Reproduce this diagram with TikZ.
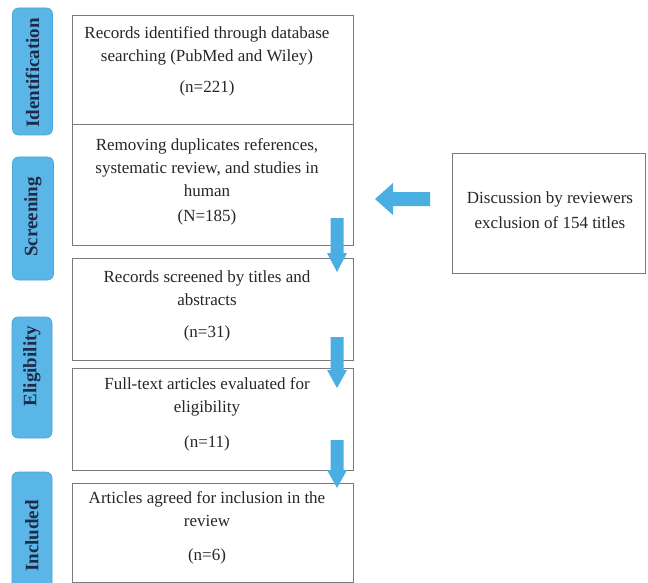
\documentclass[tikz,border=0pt]{standalone}
\usepackage{fontspec}
\setmainfont{Liberation Serif}
\definecolor{tabblue}{HTML}{5BB6E8}
\definecolor{tabedge}{HTML}{4BA3D6}
\definecolor{arrowblue}{HTML}{4AAEE3}
\definecolor{tabtext}{HTML}{1E2B48}
\definecolor{boxline}{HTML}{7A7A7A}
\begin{document}
\begin{tikzpicture}[x=1pt,y=-1pt,
  stagetab/.style={draw=tabedge, fill=tabblue, rounded corners=6pt, line width=0.6pt, inner sep=0pt},
  stagetext/.style={rotate=90, font=\fontsize{19}{22}\selectfont\bfseries, text=tabtext, inner sep=0pt},
  flowbox/.style={draw=boxline, line width=0.8pt, minimum width=281pt, inner sep=0pt},
  bodytext/.style={font=\fontsize{17}{23}\selectfont, align=center, inner sep=0pt, text=black!85},
  blockarrow/.style={fill=arrowblue}
]
\useasboundingbox (0,0) rectangle (648,583);

% stage tabs
\node[stagetab, minimum width=40pt, minimum height=127pt] (tabI) at (32.5,71.5) {};
\node[stagetab, minimum width=41pt, minimum height=123pt] (tabS) at (33,218.5) {};
\node[stagetab, minimum width=40pt, minimum height=121pt] (tabE) at (32,377.5) {};
\node[stagetab, minimum width=40pt, minimum height=128pt] (tabN) at (32,536) {};
\node[stagetext] (labI) at (32.5,73) {Identification};
\node[stagetext] (labS) at (33,217) {Screening};
\node[stagetext] (labE) at (32,366) {Eligibility};
\node[stagetext] (labN) at (32,536) {Included};

% flow boxes
\node[flowbox, minimum height=109pt] (b1) at (212.5,69.5) {};
\node[flowbox, minimum height=121pt] (b2) at (212.5,184.5) {};
\node[flowbox, minimum height=102pt] (b3) at (212.5,309) {};
\node[flowbox, minimum height=102pt] (b4) at (212.5,419) {};
\node[flowbox, minimum height=99pt] (b5) at (212.5,532.5) {};
\node[draw=boxline, line width=0.8pt, minimum width=193pt, minimum height=120pt, inner sep=0pt] (disc) at (548.5,213) {};

% texts
\node[bodytext, anchor=north] (t1) at (207,26.4) {Records identified through database\\searching (PubMed and Wiley)};
\node[bodytext, anchor=base] (n1) at (207,93) {(n=221)};
\node[bodytext, anchor=north] (t2) at (207,138.4) {Removing duplicates references,\\systematic review, and studies in\\human};
\node[bodytext, anchor=base] (n2) at (207,221) {(N=185)};
\node[bodytext, anchor=north] (t3) at (207,270.4) {Records screened by titles and\\abstracts};
\node[bodytext, anchor=base] (n3) at (207,337) {(n=31)};
\node[bodytext, anchor=north] (t4) at (207,377.4) {Full-text articles evaluated for\\eligibility};
\node[bodytext, anchor=base] (n4) at (207,447) {(n=11)};
\node[bodytext, anchor=north] (t5) at (207,491.4) {Articles agreed for inclusion in the\\review};
\node[bodytext, anchor=base] (n5) at (207,560) {(n=6)};
\node[bodytext, anchor=north, font=\fontsize{17}{25}\selectfont] (td) at (550,191.4) {Discussion by reviewers\\exclusion of 154 titles};

% block arrows
\fill[blockarrow] (330.5,218) -- (343.5,218) -- (343.5,253) -- (347,253) -- (337,272) -- (327,253) -- (330.5,253) -- cycle;
\fill[blockarrow] (330.5,337) -- (343.5,337) -- (343.5,370) -- (347,370) -- (337,388) -- (327,370) -- (330.5,370) -- cycle;
\fill[blockarrow] (330.5,440) -- (343.5,440) -- (343.5,470) -- (347,470) -- (337,488) -- (327,470) -- (330.5,470) -- cycle;
\fill[blockarrow] (430,192) -- (393,192) -- (393,183) -- (375,199) -- (393,215) -- (393,206) -- (430,206) -- cycle;
\end{tikzpicture}
\end{document}
